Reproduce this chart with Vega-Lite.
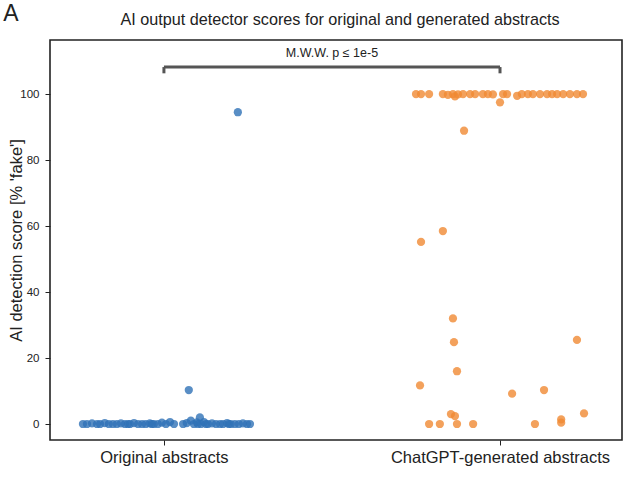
{
  "$schema": "https://vega.github.io/schema/vega-lite/v6.json",
  "width": 572,
  "height": 400,
  "autosize": {"type": "none"},
  "padding": {"left": 50, "top": 40, "right": 11, "bottom": 41},
  "background": "white",
  "config": {
    "font": "Liberation Sans",
    "view": {"stroke": "#222222", "strokeWidth": 1.6},
    "axis": {"grid": false, "domain": false, "tickColor": "#222222", "labelColor": "#222222", "titleColor": "#222222", "titleFontWeight": "normal"}
  },
  "datasets": {
    "points": [
      {"group": "Original abstracts", "pos": -0.241, "score": 0.0},
      {"group": "Original abstracts", "pos": -0.229, "score": 0.0},
      {"group": "Original abstracts", "pos": -0.214, "score": 0.2},
      {"group": "Original abstracts", "pos": -0.199, "score": 0.0},
      {"group": "Original abstracts", "pos": -0.190, "score": 0.0},
      {"group": "Original abstracts", "pos": -0.176, "score": 0.3},
      {"group": "Original abstracts", "pos": -0.164, "score": 0.0},
      {"group": "Original abstracts", "pos": -0.152, "score": 0.0},
      {"group": "Original abstracts", "pos": -0.140, "score": 0.0},
      {"group": "Original abstracts", "pos": -0.128, "score": 0.2},
      {"group": "Original abstracts", "pos": -0.116, "score": 0.0},
      {"group": "Original abstracts", "pos": -0.107, "score": 0.0},
      {"group": "Original abstracts", "pos": -0.101, "score": 0.0},
      {"group": "Original abstracts", "pos": -0.089, "score": 0.3},
      {"group": "Original abstracts", "pos": -0.077, "score": 0.0},
      {"group": "Original abstracts", "pos": -0.065, "score": 0.0},
      {"group": "Original abstracts", "pos": -0.054, "score": 0.0},
      {"group": "Original abstracts", "pos": -0.042, "score": 0.2},
      {"group": "Original abstracts", "pos": -0.036, "score": 0.0},
      {"group": "Original abstracts", "pos": -0.030, "score": 0.0},
      {"group": "Original abstracts", "pos": -0.018, "score": 0.0},
      {"group": "Original abstracts", "pos": -0.006, "score": 0.4},
      {"group": "Original abstracts", "pos": 0.006, "score": 0.0},
      {"group": "Original abstracts", "pos": 0.018, "score": 0.6},
      {"group": "Original abstracts", "pos": 0.030, "score": 0.0},
      {"group": "Original abstracts", "pos": 0.057, "score": 0.0},
      {"group": "Original abstracts", "pos": 0.068, "score": 0.3},
      {"group": "Original abstracts", "pos": 0.074, "score": 10.3},
      {"group": "Original abstracts", "pos": 0.080, "score": 1.0},
      {"group": "Original abstracts", "pos": 0.089, "score": 0.0},
      {"group": "Original abstracts", "pos": 0.098, "score": 0.5},
      {"group": "Original abstracts", "pos": 0.101, "score": 0.0},
      {"group": "Original abstracts", "pos": 0.107, "score": 2.0},
      {"group": "Original abstracts", "pos": 0.110, "score": 0.0},
      {"group": "Original abstracts", "pos": 0.119, "score": 0.6},
      {"group": "Original abstracts", "pos": 0.125, "score": 0.0},
      {"group": "Original abstracts", "pos": 0.131, "score": 0.0},
      {"group": "Original abstracts", "pos": 0.143, "score": 0.2},
      {"group": "Original abstracts", "pos": 0.155, "score": 0.0},
      {"group": "Original abstracts", "pos": 0.167, "score": 0.0},
      {"group": "Original abstracts", "pos": 0.176, "score": 0.0},
      {"group": "Original abstracts", "pos": 0.188, "score": 0.3},
      {"group": "Original abstracts", "pos": 0.193, "score": 0.0},
      {"group": "Original abstracts", "pos": 0.199, "score": 0.0},
      {"group": "Original abstracts", "pos": 0.211, "score": 0.0},
      {"group": "Original abstracts", "pos": 0.220, "score": 94.5},
      {"group": "Original abstracts", "pos": 0.223, "score": 0.0},
      {"group": "Original abstracts", "pos": 0.235, "score": 0.2},
      {"group": "Original abstracts", "pos": 0.247, "score": 0.0},
      {"group": "Original abstracts", "pos": 0.256, "score": 0.0},
      {"group": "ChatGPT-generated abstracts", "pos": 0.750, "score": 100.0},
      {"group": "ChatGPT-generated abstracts", "pos": 0.765, "score": 100.0},
      {"group": "ChatGPT-generated abstracts", "pos": 0.789, "score": 100.0},
      {"group": "ChatGPT-generated abstracts", "pos": 0.830, "score": 100.0},
      {"group": "ChatGPT-generated abstracts", "pos": 0.845, "score": 99.8},
      {"group": "ChatGPT-generated abstracts", "pos": 0.860, "score": 100.0},
      {"group": "ChatGPT-generated abstracts", "pos": 0.866, "score": 99.3},
      {"group": "ChatGPT-generated abstracts", "pos": 0.875, "score": 99.9},
      {"group": "ChatGPT-generated abstracts", "pos": 0.890, "score": 100.0},
      {"group": "ChatGPT-generated abstracts", "pos": 0.893, "score": 88.9},
      {"group": "ChatGPT-generated abstracts", "pos": 0.911, "score": 100.0},
      {"group": "ChatGPT-generated abstracts", "pos": 0.926, "score": 100.0},
      {"group": "ChatGPT-generated abstracts", "pos": 0.949, "score": 100.0},
      {"group": "ChatGPT-generated abstracts", "pos": 0.964, "score": 100.0},
      {"group": "ChatGPT-generated abstracts", "pos": 0.979, "score": 99.9},
      {"group": "ChatGPT-generated abstracts", "pos": 1.000, "score": 97.5},
      {"group": "ChatGPT-generated abstracts", "pos": 1.009, "score": 100.0},
      {"group": "ChatGPT-generated abstracts", "pos": 1.021, "score": 100.0},
      {"group": "ChatGPT-generated abstracts", "pos": 1.051, "score": 99.5},
      {"group": "ChatGPT-generated abstracts", "pos": 1.065, "score": 100.0},
      {"group": "ChatGPT-generated abstracts", "pos": 1.083, "score": 100.0},
      {"group": "ChatGPT-generated abstracts", "pos": 1.098, "score": 100.0},
      {"group": "ChatGPT-generated abstracts", "pos": 1.119, "score": 100.0},
      {"group": "ChatGPT-generated abstracts", "pos": 1.140, "score": 100.0},
      {"group": "ChatGPT-generated abstracts", "pos": 1.155, "score": 100.0},
      {"group": "ChatGPT-generated abstracts", "pos": 1.170, "score": 100.0},
      {"group": "ChatGPT-generated abstracts", "pos": 1.188, "score": 100.0},
      {"group": "ChatGPT-generated abstracts", "pos": 1.208, "score": 100.0},
      {"group": "ChatGPT-generated abstracts", "pos": 1.229, "score": 100.0},
      {"group": "ChatGPT-generated abstracts", "pos": 1.247, "score": 100.0},
      {"group": "ChatGPT-generated abstracts", "pos": 0.765, "score": 55.2},
      {"group": "ChatGPT-generated abstracts", "pos": 0.830, "score": 58.5},
      {"group": "ChatGPT-generated abstracts", "pos": 0.860, "score": 32.0},
      {"group": "ChatGPT-generated abstracts", "pos": 0.863, "score": 24.8},
      {"group": "ChatGPT-generated abstracts", "pos": 0.872, "score": 16.0},
      {"group": "ChatGPT-generated abstracts", "pos": 0.762, "score": 11.7},
      {"group": "ChatGPT-generated abstracts", "pos": 1.229, "score": 25.5},
      {"group": "ChatGPT-generated abstracts", "pos": 1.131, "score": 10.3},
      {"group": "ChatGPT-generated abstracts", "pos": 1.036, "score": 9.2},
      {"group": "ChatGPT-generated abstracts", "pos": 1.250, "score": 3.2},
      {"group": "ChatGPT-generated abstracts", "pos": 0.854, "score": 3.0},
      {"group": "ChatGPT-generated abstracts", "pos": 0.866, "score": 2.4},
      {"group": "ChatGPT-generated abstracts", "pos": 1.182, "score": 1.4},
      {"group": "ChatGPT-generated abstracts", "pos": 1.182, "score": 0.4},
      {"group": "ChatGPT-generated abstracts", "pos": 0.789, "score": 0.0},
      {"group": "ChatGPT-generated abstracts", "pos": 0.821, "score": 0.0},
      {"group": "ChatGPT-generated abstracts", "pos": 0.872, "score": 0.0},
      {"group": "ChatGPT-generated abstracts", "pos": 0.920, "score": 0.0},
      {"group": "ChatGPT-generated abstracts", "pos": 1.104, "score": 0.0}
    ],
    "bracket": [
      {"pos": 0, "pos2": 1, "score": 108.2, "score2": 108.2},
      {"pos": 0, "pos2": 0, "score": 108.2, "score2": 106.3},
      {"pos": 1, "pos2": 1, "score": 108.2, "score2": 106.3}
    ],
    "notes": [
      {"pos": 0.5, "score": 110.2, "label": "M.W.W. p ≤ 1e-5", "size": 12.5},
      {"pos": 0.524, "score": 120.0, "label": "AI output detector scores for original and generated abstracts", "size": 16.2},
      {"pos": -0.455, "score": 120.5, "label": "A", "size": 23}
    ]
  },
  "layer": [
    {
      "data": {"name": "points"},
      "mark": {"type": "circle", "size": 68, "opacity": 0.8},
      "encoding": {
        "x": {
          "field": "pos", "type": "quantitative",
          "scale": {"domain": [-0.339, 1.363], "nice": false, "zero": false},
          "axis": {"values": [0, 1], "title": null, "labelExpr": "datum.value == 0 ? 'Original abstracts' : 'ChatGPT-generated abstracts'", "labelFontSize": 16.5, "labelPadding": 4, "tickSize": 5, "labelFlush": false, "labelLimit": 400}
        },
        "y": {
          "field": "score", "type": "quantitative",
          "scale": {"domain": [-4.85, 116.4], "nice": false, "zero": false},
          "axis": {"values": [0, 20, 40, 60, 80, 100], "title": "AI detection score [% 'fake']", "titleFontSize": 16.5, "labelFontSize": 11.5, "labelPadding": 6, "tickSize": 5, "titlePadding": -5}
        },
        "color": {
          "field": "group", "type": "nominal",
          "scale": {"domain": ["Original abstracts", "ChatGPT-generated abstracts"], "range": ["#2f72b6", "#f08a33"]},
          "legend": null
        }
      }
    },
    {
      "data": {"name": "bracket"},
      "mark": {"type": "rule", "color": "#555555", "strokeWidth": 3},
      "encoding": {
        "x": {"field": "pos", "type": "quantitative"},
        "x2": {"field": "pos2"},
        "y": {"field": "score", "type": "quantitative"},
        "y2": {"field": "score2"}
      }
    },
    {
      "data": {"name": "notes"},
      "mark": {"type": "text", "align": "center", "baseline": "bottom", "color": "#222222"},
      "encoding": {
        "x": {"field": "pos", "type": "quantitative"},
        "y": {"field": "score", "type": "quantitative"},
        "text": {"field": "label"},
        "size": {"field": "size", "type": "quantitative", "scale": null}
      }
    }
  ]
}
